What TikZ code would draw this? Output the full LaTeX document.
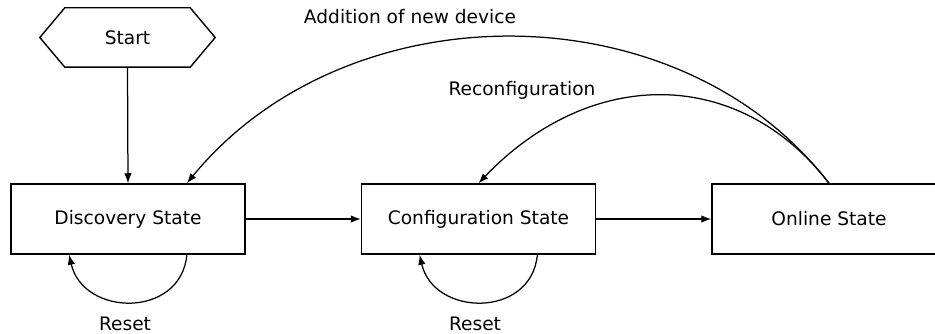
\documentclass[tikz,border=0pt]{standalone}
\usepackage{fontspec}
\setmainfont{DejaVu Sans}
\usetikzlibrary{arrows.meta,calc}

\tikzset{
  statebox/.style={draw, line width=1.5pt, minimum width=234pt, minimum height=70pt, inner sep=0pt},
  lbl/.style={inner sep=0pt, anchor=base},
  conn/.style={line width=1.25pt, -{Latex[length=10pt,width=7.5pt]}},
}

\begin{document}
\begin{tikzpicture}[x=1pt, y=-1pt, font=\fontsize{18.6}{22}\selectfont]
  \useasboundingbox (0,0) rectangle (935,334);
  \clip (0,0) rectangle (935,334);

  % start terminal (hexagon drawn around an invisible node)
  \node[minimum width=175pt, minimum height=59pt, inner sep=0pt] (start) at (127.5,37.5) {Start};
  \draw[line width=1.4pt] (start.west) -- ([xshift=25pt]start.north west)
    -- ([xshift=-25pt]start.north east) -- (start.east)
    -- ([xshift=-25pt]start.south east) -- ([xshift=25pt]start.south west) -- cycle;

  % the three states
  \node[statebox] (disc)   at (128,219)   {Discovery State};
  \node[statebox] (conf)   at (478.5,219) {Configuration State};
  \node[statebox] (online) at (829,219)   {Online State};

  \coordinate (discin)   at ($(disc.north)!0.5!(disc.north east)$);
  \coordinate (discrout) at ($(disc.south)!0.5!(disc.south east)$);
  \coordinate (discrin)  at ($(disc.south)!0.5!(disc.south west)$);
  \coordinate (confrout) at ($(conf.south)!0.5!(conf.south east)$);
  \coordinate (confrin)  at ($(conf.south)!0.5!(conf.south west)$);

  % forward transitions
  \draw[conn] (start.south) -- (disc.north);
  \draw[conn] (disc.east) -- (conf.west);
  \draw[conn] (conf.east) -- (online.west);

  % backward transitions
  \draw[conn] (online.north) .. controls +(-150,-195) and +(160,-195) .. (discin);
  \draw[conn] (online.north) .. controls +(-90,-117) and +(112,-117) .. (conf.north);

  % reset loops
  \draw[conn] (discrout) .. controls +(-6,64) and +(14,62) .. (discrin);
  \draw[conn] (confrout) .. controls +(-6,64) and +(14,62) .. (confrin);

  % labels
  \node[lbl] (ladd)   at (410,23.5)  {Addition of new device};
  \node[lbl] (lrec)   at (522,96)    {Reconfiguration};
  \node[lbl] (lres1)  at (125,330.5) {Reset};
  \node[lbl] (lres2)  at (475,330.5) {Reset};
\end{tikzpicture}
\end{document}
